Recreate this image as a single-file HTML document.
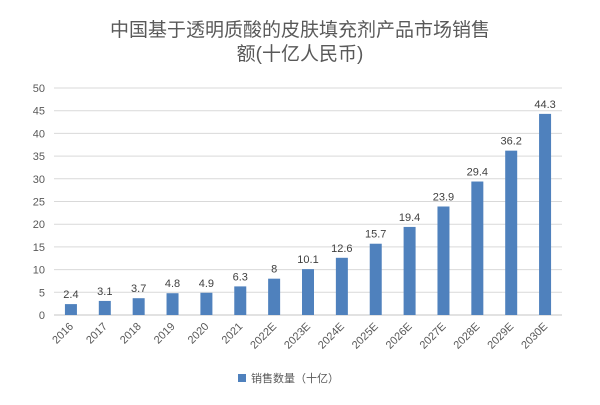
<!DOCTYPE html>
<html><head><meta charset="utf-8"><style>
body{margin:0;background:#fff;}
svg text{font-family:"Liberation Sans","Noto Sans CJK SC",sans-serif;}
</style></head><body>
<svg width="600" height="400" viewBox="0 0 600 400">
<text x="300" y="36" text-anchor="middle" font-size="19" fill="#595959">中国基于透明质酸的皮肤填充剂产品市场销售</text>
<text x="300" y="60" text-anchor="middle" font-size="19" fill="#595959">额(十亿人民币)</text>
<g id="grid"></g><g id="bars"></g><g id="xl"></g>
<rect x="238" y="374" width="8" height="8" fill="#4f81bd"/>
<text x="251" y="382" font-size="11" fill="#595959">销售数量（十亿）</text>
</svg>
<script>
const categories=["2016","2017","2018","2019","2020","2021","2022E","2023E","2024E","2025E","2026E","2027E","2028E","2029E","2030E"];
const values=[2.4,3.1,3.7,4.8,4.9,6.3,8,10.1,12.6,15.7,19.4,23.9,29.4,36.2,44.3];
const labels=["2.4","3.1","3.7","4.8","4.9","6.3","8","10.1","12.6","15.7","19.4","23.9","29.4","36.2","44.3"];
const yTicks=[0,5,10,15,20,25,30,35,40,45,50];
const NS="http://www.w3.org/2000/svg";
const L=54,R=562,T=88,B=315;
const y=v=>B-(v/50)*(B-T);
const bw=(R-L)/categories.length;
const x=i=>L+bw*(i+0.5);
function mk(t,a,p){const e=document.createElementNS(NS,t);for(const k in a)e.setAttribute(k,a[k]);document.getElementById(p).appendChild(e);return e;}
yTicks.forEach(v=>{
 const l=mk('line',{x1:L,x2:R,y1:y(v),y2:y(v),stroke:'#d9d9d9','stroke-width':v===0?1.5:1},'grid');
 
 
 const t=mk('text',{x:L-9,y:y(v)+4,'text-anchor':'end','font-size':11,fill:'#595959'},'grid');
 t.textContent=v;
 
 
});
values.forEach((v,i)=>{
 const r=mk('rect',{x:x(i)-6,y:y(v),width:12,height:B-y(v),fill:'#4f81bd'},'bars');
 
 
 const t=mk('text',{x:x(i),y:y(v)-6,'text-anchor':'middle','font-size':11,fill:'#404040'},'bars');
 t.textContent=labels[i];
 
 
 const xl=mk('text',{x:x(i)+3,y:B+12,'text-anchor':'end','font-size':11,fill:'#595959',transform:`rotate(-45 ${x(i)+3} ${B+12})`},'xl');
 xl.textContent=categories[i];
 
 
});
</script>
</body></html>
